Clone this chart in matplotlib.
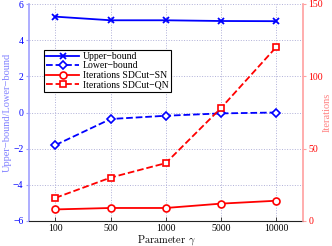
import matplotlib
matplotlib.use("Agg")
import matplotlib.pyplot as plt
import numpy as np

plt.rcParams["font.family"] = ["Liberation Serif", "DejaVu Serif"]
plt.rcParams["mathtext.fontset"] = "cm"
plt.rcParams["axes.unicode_minus"] = True

GAMMA_LABELS = ["100", "500", "1000", "5000", "10000"]
UPPER_BOUND = [5.3, 5.1, 5.1, 5.06, 5.05]
LOWER_BOUND = [-1.8, -0.36, -0.18, -0.05, 0.0]
ITER_SN = [8, 9, 9, 12, 14]
ITER_QN = [16, 30, 40, 78, 120]

BLUE = "#0000ff"
RED = "#ff0000"
BLUE_AXIS = "#a0a0ff"
RED_AXIS = "#ffa0a0"

x = np.arange(1, len(GAMMA_LABELS) + 1)

fig = plt.figure(figsize=(3.32, 2.46), dpi=100)
ax = fig.add_axes([29 / 332, 1 - 221 / 246, (303 - 29) / 332, (221 - 4) / 246])
ax2 = ax.twinx()

l1, = ax.plot(x, UPPER_BOUND, "-", color=BLUE, marker="x", ms=4, mew=1.3, lw=1.3,
              label="Upper\u2212bound")
l2, = ax.plot(x, LOWER_BOUND, "--", color=BLUE, marker="D", ms=4, mfc="white", mew=1.2, lw=1.3,
              label="Lower\u2212bound")
l3, = ax2.plot(x, ITER_SN, "-", color=RED, marker="o", ms=5, mfc="white", mew=1.2, lw=1.3,
               label="Iterations SDCut\u2212SN")
l4, = ax2.plot(x, ITER_QN, "--", color=RED, marker="s", ms=4, mfc="white", mew=1.2, lw=1.3,
               label="Iterations SDCut\u2212QN")

ax.set_xlim(0.52, 5.49)
ax.set_ylim(-6, 6)
ax.set_yticks([-6, -4, -2, 0, 2, 4, 6])
ax.set_xticks(x)
ax.set_xticklabels(GAMMA_LABELS)
ax2.set_ylim(0, 150)
ax2.set_yticks([0, 50, 100, 150])

ax.grid(True, linestyle=":", color="#b0b0d8", lw=0.7)
ax.set_axisbelow(True)

for a in (ax, ax2):
    a.spines["top"].set_visible(False)
ax.spines["left"].set_color(BLUE_AXIS)
ax.spines["left"].set_linewidth(1.2)
ax2.spines["left"].set_visible(False)
ax2.spines["right"].set_color(RED_AXIS)
ax2.spines["right"].set_linewidth(1.2)
ax.spines["right"].set_visible(False)
ax2.spines["bottom"].set_visible(False)
ax.spines["bottom"].set_color("#222222")

ax.tick_params(axis="y", colors=BLUE_AXIS, labelcolor=BLUE, labelsize=7, direction="out",
               length=2.5, width=0.8, pad=1.5)
ax.tick_params(axis="x", labelsize=7, direction="in", length=3, width=0.6, color="#222222", pad=2)
ax2.tick_params(axis="y", colors=RED_AXIS, labelcolor=RED, labelsize=7, direction="out",
                length=2.5, width=0.8, pad=1.5)

ax.set_ylabel("Upper\u2212bound/Lower\u2212bound", color="#8080ff", fontsize=7.5)
ax.yaxis.set_label_coords(-0.064, 0.5)
ax2.set_ylabel("Iterations", color="#ff8080", fontsize=7.5)
ax2.yaxis.set_label_coords(1.072, 0.5)
ax.set_xlabel("Parameter $\\gamma$", fontsize=7.5, family="cmr10")
ax.xaxis.set_label_coords(0.5, -0.056)

leg = ax.legend(handles=[l1, l2, l3, l4], loc="upper left", bbox_to_anchor=(0.054, 0.79),
                fontsize=7, frameon=True, fancybox=False, edgecolor="black", framealpha=1,
                handlelength=3.4, borderpad=0.25, labelspacing=0.05, handletextpad=0.4,
                borderaxespad=0)
leg.get_frame().set_linewidth(0.8)
leg.set_zorder(10)

fig.savefig("out.png", dpi=100)
